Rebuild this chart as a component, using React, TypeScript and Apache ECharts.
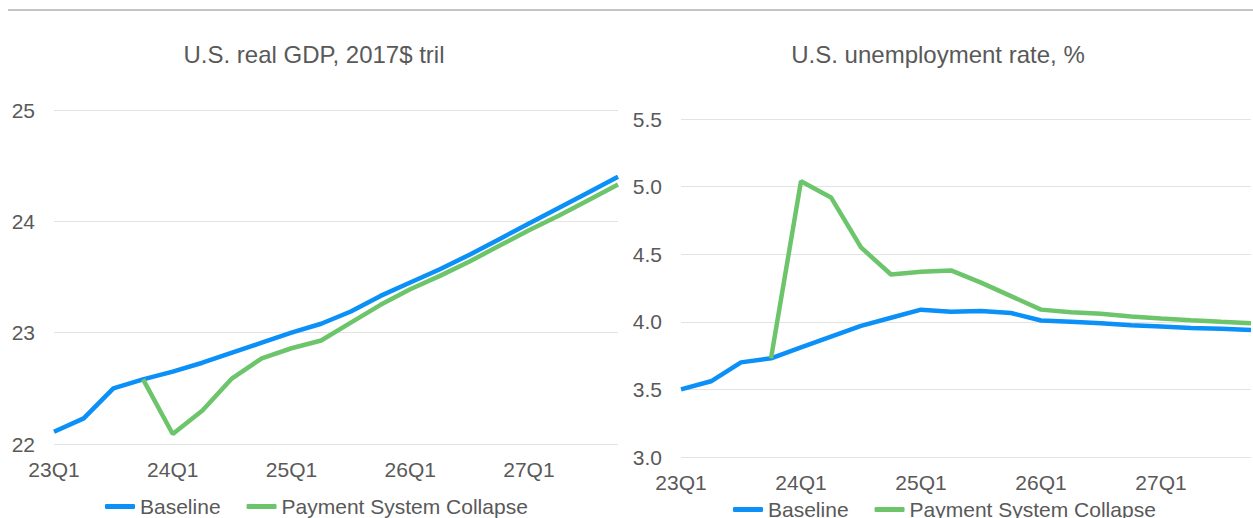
import React, { useEffect, useRef } from "react";
import * as echarts from "echarts";

const quarters = [
  "23Q1", "23Q2", "23Q3", "23Q4",
  "24Q1", "24Q2", "24Q3", "24Q4",
  "25Q1", "25Q2", "25Q3", "25Q4",
  "26Q1", "26Q2", "26Q3", "26Q4",
  "27Q1", "27Q2", "27Q3", "27Q4",
];

const gdpBaseline = [
  22.11, 22.23, 22.5, 22.58, 22.65, 22.73, 22.82, 22.91, 23.0, 23.08,
  23.19, 23.33, 23.45, 23.57, 23.7, 23.84, 23.98, 24.12, 24.26, 24.4,
];
const gdpCollapse = [
  null, null, null, 22.58, 22.09, 22.3, 22.59, 22.77, 22.86, 22.93,
  23.09, 23.25, 23.39, 23.51, 23.64, 23.78, 23.92, 24.05, 24.19, 24.33,
];

const unempBaseline = [
  3.5, 3.56, 3.7, 3.73, 3.81, 3.89, 3.97, 4.03, 4.09, 4.075,
  4.08, 4.065, 4.01, 4.0, 3.99, 3.975, 3.965, 3.955, 3.948, 3.94,
];
const unempCollapse = [
  null, null, null, 3.73, 5.04, 4.92, 4.55, 4.35, 4.37, 4.38,
  4.29, 4.19, 4.09, 4.07, 4.06, 4.04, 4.025, 4.012, 4.0, 3.99,
];

const titles = ["U.S. real GDP, 2017$ tril", "U.S. unemployment rate, %"];
const seriesNames = ["Baseline", "Payment System Collapse"];

const BLUE = "#0a90f7";
const GREEN = "#6dc56b";
const TEXT = "#595959";
const FONT = "'Liberation Sans', Arial, sans-serif";

export default function App() {
  const ref = useRef<HTMLDivElement>(null);

  useEffect(() => {
    if (!ref.current) return;
    const chart = echarts.init(ref.current, undefined, { renderer: "svg" });

    const xAxisBase = {
      type: "category",
      data: quarters,
      boundaryGap: false,
      axisLine: { show: false },
      axisTick: { show: false },
      splitLine: { show: false },
      axisLabel: {
        interval: 3,
        fontSize: 21,
        color: TEXT,
        fontFamily: FONT,
        margin: 15,
      },
    };
    const yAxisBase = {
      type: "value",
      axisLine: { show: false },
      axisTick: { show: false },
      splitLine: { show: true, lineStyle: { color: "#e3e3e3", width: 1 } },
    };
    const legendBase = {
      orient: "horizontal",
      icon: "roundRect",
      itemWidth: 30,
      itemHeight: 5,
      itemGap: 26,
      padding: 0,
      data: seriesNames,
      textStyle: { fontSize: 21, color: TEXT, fontFamily: FONT },
    };
    const lineBase = {
      type: "line",
      symbol: "none",
      smooth: false,
      connectNulls: false,
    };

    chart.setOption({
      animation: false,
      textStyle: { fontFamily: FONT },
      graphic: [
        {
          type: "line",
          shape: { x1: 8, y1: 10, x2: 1253, y2: 10 },
          style: { stroke: "#c4c4c4", lineWidth: 2 },
        },
        {
          type: "text",
          x: 314,
          y: 54,
          style: {
            text: titles[0],
            align: "center",
            verticalAlign: "middle",
            fontSize: 24,
            fill: TEXT,
            fontFamily: FONT,
          },
        },
        {
          type: "text",
          x: 938,
          y: 54,
          style: {
            text: titles[1],
            align: "center",
            verticalAlign: "middle",
            fontSize: 24,
            fill: TEXT,
            fontFamily: FONT,
          },
        },
      ],
      grid: [
        { left: 54, top: 110, width: 564, height: 334 },
        { left: 681, top: 119, width: 570, height: 338 },
      ],
      xAxis: [
        { ...xAxisBase, gridIndex: 0 },
        { ...xAxisBase, gridIndex: 1 },
      ],
      yAxis: [
        {
          ...yAxisBase,
          gridIndex: 0,
          min: 22,
          max: 25,
          interval: 1,
          axisLabel: { fontSize: 21, color: TEXT, fontFamily: FONT, margin: 19 },
        },
        {
          ...yAxisBase,
          gridIndex: 1,
          min: 3,
          max: 5.5,
          interval: 0.5,
          axisLabel: {
            fontSize: 21,
            color: TEXT,
            fontFamily: FONT,
            margin: 19,
            formatter: (v: number) => v.toFixed(1),
          },
        },
      ],
      legend: [
        { ...legendBase, left: 105, top: 496 },
        { ...legendBase, left: 733, top: 499 },
      ],
      series: [
        {
          ...lineBase,
          name: seriesNames[0],
          xAxisIndex: 0,
          yAxisIndex: 0,
          data: gdpBaseline,
          color: BLUE,
          lineStyle: { color: BLUE, width: 4.5 },
        },
        {
          ...lineBase,
          name: seriesNames[1],
          xAxisIndex: 0,
          yAxisIndex: 0,
          data: gdpCollapse,
          color: GREEN,
          lineStyle: { color: GREEN, width: 4.5 },
        },
        {
          ...lineBase,
          name: seriesNames[0],
          xAxisIndex: 1,
          yAxisIndex: 1,
          data: unempBaseline,
          color: BLUE,
          lineStyle: { color: BLUE, width: 4.5 },
        },
        {
          ...lineBase,
          name: seriesNames[1],
          xAxisIndex: 1,
          yAxisIndex: 1,
          data: unempCollapse,
          color: GREEN,
          lineStyle: { color: GREEN, width: 4.5 },
        },
      ],
    });

    return () => chart.dispose();
  }, []);

  return (
    <div
      ref={ref}
      style={{ position: "absolute", left: 0, top: 0, width: 1253, height: 518 }}
    />
  );
}
